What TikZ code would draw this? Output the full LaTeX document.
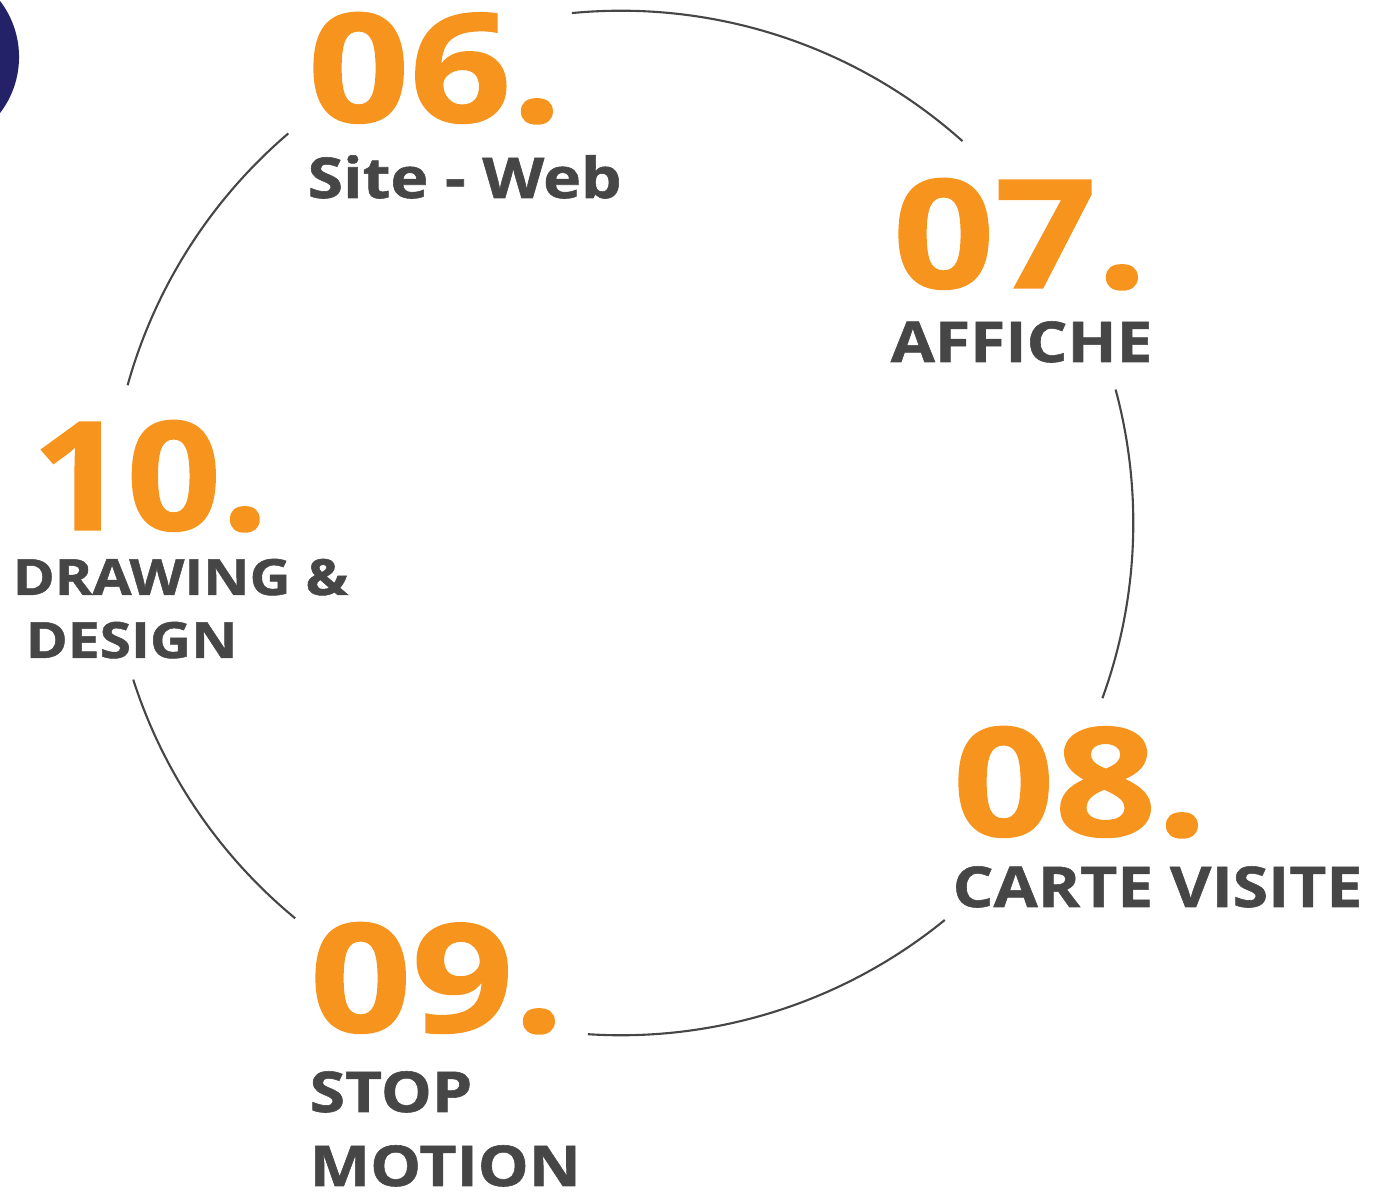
\documentclass[tikz,border=0pt]{standalone}
\usepackage{fontspec}
\setmainfont{Open Sans}
\newfontfamily\numfont{Open Sans}[FakeStretch=1.18, BoldFeatures={FakeBold=1}]
\newfontfamily\lblfont{Open Sans}[FakeStretch=1.14, BoldFeatures={FakeBold=1}]
\usetikzlibrary{positioning}
\definecolor{numorange}{RGB}{247,148,30}
\definecolor{labelgray}{RGB}{70,70,70}
\definecolor{dotnavy}{RGB}{35,33,104}

\begin{document}
\begin{tikzpicture}[x=0.01cm, y=-0.01cm,
    num/.style={anchor=base west, inner sep=0pt, text=numorange, font=\numfont\fontsize{43}{43}\selectfont\bfseries},
    lbl/.style={anchor=base west, inner sep=0pt, text=labelgray, font=\lblfont\fontsize{16}{18}\selectfont\bfseries},
    small/.style={font=\lblfont\fontsize{14.2}{16}\selectfont\bfseries},
    ring/.style={draw=labelgray, line width=0.6pt}
]
    \useasboundingbox (0,0) rectangle (1378,1192);

    % Navy dot in the corner
    \begin{scope}
        \clip (0,0) rectangle (1378,1192);
        \fill[dotnavy] (-73,57) circle[radius=0.92cm];
    \end{scope}

    % Numbers
    \node[num] (n06) at (307,122) {06.};
    \node[num] (n07) at (892,288) {07.};
    \node[num] (n08) at (952,836) {08.};
    \node[num] (n09) at (309,1032) {09.};
    \node[num, xscale=0.93, transform shape] (n10) at (31,530) {10.};

    % Labels
    \node[lbl] (l06) at (307,198) {Site - Web};
    \node[lbl] (l07) at (890,362) {AFFICHE};
    \node[lbl] (l08) at (952,907) {CARTE VISITE};
    \node[lbl] (l09a) at (309,1112) {STOP};
    \node[lbl] (l09b) at (309,1186) {MOTION};
    \node[lbl, small] (l10a) at (12,595) {DRAWING \&};
    \node[lbl, small] (l10b) at (25,658) {DESIGN};

    % Ring, broken at each label
    \coordinate (hub) at (621,523);
    \draw[ring] (hub) ++(95.5:5.12cm) arc[start angle=95.5, end angle=48.2, radius=5.12cm];
    \draw[ring] (hub) ++(15.1:5.12cm) arc[start angle=15.1, end angle=-20.0, radius=5.12cm];
    \draw[ring] (hub) ++(-50.8:5.12cm) arc[start angle=-50.8, end angle=-93.7, radius=5.12cm];
    \draw[ring] (hub) ++(-129.5:5.12cm) arc[start angle=-129.5, end angle=-162.2, radius=5.12cm];
    \draw[ring] (hub) ++(164.4:5.12cm) arc[start angle=164.4, end angle=130.5, radius=5.12cm];
\end{tikzpicture}
\end{document}
